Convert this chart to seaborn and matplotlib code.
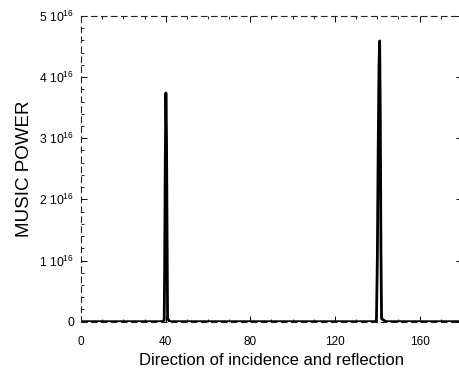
import numpy as np
import pandas as pd
import matplotlib
matplotlib.use("Agg")
import matplotlib.pyplot as plt
from matplotlib.ticker import AutoMinorLocator, MultipleLocator
import seaborn as sns

# Scan angle (degrees) and MUSIC pseudo-spectrum power
angle = [0, 10, 20, 30, 38, 39.3, 39.5, 39.8, 40.1, 40.4, 40.7, 40.9, 42,
         55, 65, 75, 85, 95, 105, 115, 125, 135, 139.4, 139.6, 140.0,
         140.4, 140.8, 141.1, 141.4, 141.7, 142.0, 144, 155, 165, 172, 180]
power = [0.0, 0.0, 0.0, 0.0, 0.0, 0.02e16, 0.8e16, 2.6e16, 3.74e16, 3.0e16,
         1.2e16, 0.05e16, 0.0, 0.0, 0.0, 0.0, 0.0, 0.0, 0.0, 0.0, 0.0, 0.0,
         0.0, 0.05e16, 1.0e16, 2.8e16, 4.2e16, 4.59e16, 3.4e16, 1.2e16,
         0.05e16, 0.0, 0.0, 0.0, 0.0, 0.0]

x_ticks = [0, 40, 80, 120, 160]
y_ticks = [0, 1e16, 2e16, 3e16, 4e16, 5e16]
y_tick_labels = ["0", "1 10$^{16}$", "2 10$^{16}$", "3 10$^{16}$",
                 "4 10$^{16}$", "5 10$^{16}$"]

df = pd.DataFrame({"angle": angle, "power": power})

sns.set_style("ticks")
plt.rcParams["font.family"] = ["Liberation Sans", "DejaVu Sans"]
plt.rcParams["mathtext.default"] = "regular"
plt.rcParams["text.color"] = "black"
plt.rcParams["axes.labelcolor"] = "black"
plt.rcParams["xtick.color"] = "black"
plt.rcParams["ytick.color"] = "black"

fig = plt.figure(figsize=(4.59, 3.78), dpi=100)
ax = fig.add_axes([0.1765, 0.149, 0.83, 0.809])

sns.lineplot(data=df, x="angle", y="power", color="black", linewidth=2.0,
             ax=ax, legend=False)

ax.set_xlim(0, 180)
ax.set_ylim(0, 5e16)
ax.set_xticks(x_ticks)
ax.set_yticks(y_ticks)
ax.set_yticklabels(y_tick_labels)
ax.xaxis.set_minor_locator(MultipleLocator(10))
ax.yaxis.set_minor_locator(AutoMinorLocator(5))

ax.tick_params(axis="both", which="both", direction="in", top=True,
               right=True)
ax.tick_params(axis="x", which="major", length=4, width=0.7, pad=10,
               labelsize=8.5)
ax.tick_params(axis="y", which="major", length=4, width=0.7, pad=5,
               labelsize=8.8)
ax.tick_params(axis="both", which="minor", length=2.5, width=0.6)

for side in ["left", "top", "bottom"]:
    ax.spines[side].set_linewidth(0.8)
    ax.spines[side].set_linestyle((0, (5, 4)))
    ax.spines[side].set_color("#222222")
ax.spines["right"].set_visible(False)

ax.set_xlabel("Direction of incidence and reflection", fontsize=12,
              labelpad=4)
ax.set_ylabel("MUSIC POWER", fontsize=13.5, labelpad=4)

fig.savefig("out.png", dpi=100)
